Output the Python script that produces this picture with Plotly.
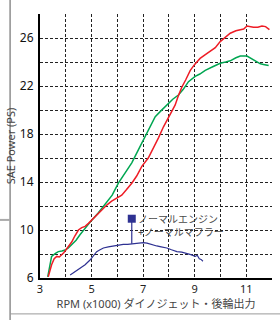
import plotly.graph_objects as go

# --- data ---
green_rpm = [3.30,3.38,3.45,3.6,3.71,3.85,3.97,4.1,4.23,4.4,4.55,4.75,5.0,5.25,5.52,5.8,6.04,6.3,6.56,6.82,7.14,7.47,7.7,7.92,8.15,8.37,8.55,8.76,9.02,9.2,9.41,9.7,9.99,10.2,10.38,10.6,10.77,11.03,11.2,11.41,11.55,11.67,11.87]
green_ps = [6.1,7.2,7.8,8.05,8.2,8.25,8.33,8.5,8.75,9.15,9.6,10.15,10.8,11.4,12.1,12.9,13.9,14.7,15.6,16.7,18.05,19.45,19.95,20.4,20.9,21.25,21.7,22.36,22.8,23.0,23.3,23.6,23.9,24.0,24.1,24.35,24.5,24.5,24.3,24.0,23.85,23.8,23.7]

red_rpm = [3.32,3.38,3.45,3.55,3.65,3.75,3.84,3.92,4.0,4.1,4.23,4.35,4.49,4.62,4.75,4.88,5.0,5.2,5.4,5.6,5.78,6.0,6.17,6.35,6.56,6.75,6.95,7.2,7.40,7.6,7.79,8.0,8.24,8.37,8.50,8.65,8.83,9.0,9.21,9.4,9.60,9.8,9.99,10.2,10.38,10.6,10.77,10.9,11.03,11.15,11.28,11.45,11.61,11.75,11.90]
red_ps = [6.1,6.6,7.1,7.6,7.8,7.75,7.9,8.1,8.33,8.6,9.0,9.5,10.0,10.2,10.3,10.55,10.8,11.25,11.7,12.1,12.4,12.65,12.9,13.35,13.9,14.5,15.3,16.0,16.8,17.7,18.6,19.5,20.4,21.2,21.9,22.5,23.3,23.8,24.3,24.6,24.9,25.2,25.7,26.1,26.4,26.6,26.7,26.75,27.0,26.95,26.9,26.9,27.0,26.95,26.7]

blue_rpm = [4.17,4.35,4.55,4.75,4.94,5.07,5.2,5.33,5.46,5.65,5.85,6.05,6.23,6.4,6.56,6.8,7.01,7.15,7.3,7.53,7.7,7.92,8.1,8.31,8.5,8.70,8.85,9.02,9.1,9.18,9.25,9.32]
blue_ps = [6.25,6.5,6.8,7.1,7.5,7.85,8.2,8.35,8.5,8.6,8.67,8.75,8.8,8.8,8.83,8.85,8.95,8.9,8.8,8.67,8.6,8.5,8.35,8.2,8.15,8.05,7.95,7.8,7.9,7.6,7.55,7.4]

label_rpm = [6.56, 6.56]
label_ps = [8.85, 10.94]
label_text = "ノーマルエンジン<br>+ノーマルマフラー"

x_ticks = [3, 5, 7, 9, 11]
y_ticks = [6, 10, 14, 18, 22, 26]

FONT = "Noto Sans, Noto Sans CJK JP, sans-serif"
RED = "#ee1c25"
GREEN = "#00a651"
BLUE = "#2e3192"
GRID = "#222222"

fig = go.Figure()
fig.add_trace(go.Scatter(x=green_rpm, y=green_ps, mode="lines",
                         line=dict(color=GREEN, width=1.5), showlegend=False))
fig.add_trace(go.Scatter(x=red_rpm, y=red_ps, mode="lines",
                         line=dict(color=RED, width=1.5), showlegend=False))
fig.add_trace(go.Scatter(x=blue_rpm, y=blue_ps, mode="lines",
                         line=dict(color=BLUE, width=1.2), showlegend=False))
fig.add_trace(go.Scatter(x=label_rpm, y=label_ps, mode="lines",
                         line=dict(color=BLUE, width=1.2), showlegend=False))
fig.add_trace(go.Scatter(x=label_rpm[1:], y=label_ps[1:], mode="markers",
                         marker=dict(symbol="square", size=8, color=BLUE), showlegend=False))

fig.add_annotation(x=label_rpm[1], y=label_ps[1], text=label_text, showarrow=False,
                   xanchor="left", yanchor="middle", align="left", xshift=5, yshift=-6.5,
                   bgcolor="rgba(0,0,0,0)", borderpad=0,
                   font=dict(family=FONT, size=10, color="#4a4a4a"))

# page decoration lines
fig.add_shape(type="line", xref="paper", yref="paper", x0=-0.129, x1=-0.129, y0=1.06, y1=-0.16,
              line=dict(color="#555555", width=1))
fig.add_shape(type="line", xref="paper", yref="paper", x0=-0.18, x1=-0.129, y0=0.22, y1=0.22,
              line=dict(color="#aaaaaa", width=2))
fig.add_shape(type="line", xref="paper", yref="paper", x0=-0.129, x1=1.05, y0=-0.136, y1=-0.136,
              line=dict(color="#999999", width=1))

fig.update_layout(
    width=280, height=320,
    margin=dict(l=40, r=8, t=14, b=42),
    paper_bgcolor="white", plot_bgcolor="white",
    font=dict(family=FONT, color="#333333"),
    xaxis=dict(range=[3, 12], tickvals=x_ticks, showgrid=True, gridcolor=GRID,
               gridwidth=1, griddash="3px,2px", automargin=False,
               minor=dict(dtick=1, showgrid=True, gridcolor=GRID, gridwidth=1, griddash="3px,2px"),
               showline=True, linecolor="black", linewidth=2, zeroline=False,
               ticks="", tickfont=dict(size=11, color="#222222"), ticklabelstandoff=0,
               title=dict(text="RPM (x1000) ダイノジェット・後輪出力", font=dict(size=11, color="#444444"),
                          standoff=4)),
    yaxis=dict(range=[6, 28], tickvals=y_ticks, showgrid=True, gridcolor=GRID,
               gridwidth=1, griddash="3px,2px", automargin=False,
               minor=dict(dtick=2, showgrid=True, gridcolor=GRID, gridwidth=1, griddash="3px,2px"),
               showline=True, linecolor="black", linewidth=2, zeroline=False,
               ticks="", tickfont=dict(size=12, color="#111111"), ticklabelstandoff=2,
               title=dict(text="SAE Power (PS)", font=dict(size=11, color="#444444"), standoff=2)),
)

fig.write_html("out.html", config={"displayModeBar": False},
               post_script="document.body.style.margin='0';")
